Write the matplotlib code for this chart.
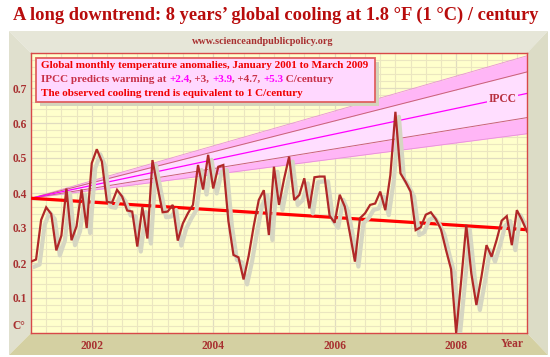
import numpy as np
import matplotlib
matplotlib.use("Agg")
import matplotlib.pyplot as plt
from matplotlib.patches import Polygon, Rectangle
import matplotlib.transforms as mtransforms

# ---------------- data ----------------
start_year = 2001
anomalies = [
    0.204, 0.210, 0.323, 0.359, 0.340, 0.236, 0.278, 0.413, 0.265, 0.305, 0.410, 0.300,  # 2001
    0.485, 0.525, 0.490, 0.375, 0.372, 0.409, 0.390, 0.350, 0.347, 0.247, 0.360, 0.270,  # 2002
    0.494, 0.418, 0.345, 0.347, 0.366, 0.264, 0.313, 0.342, 0.366, 0.480, 0.410, 0.509,  # 2003
    0.413, 0.475, 0.480, 0.320, 0.223, 0.216, 0.153, 0.220, 0.305, 0.380, 0.408, 0.280,  # 2004
    0.475, 0.366, 0.440, 0.504, 0.380, 0.394, 0.442, 0.356, 0.445, 0.447, 0.447, 0.335,  # 2005
    0.315, 0.395, 0.361, 0.285, 0.204, 0.328, 0.342, 0.366, 0.370, 0.404, 0.351, 0.451,  # 2006
    0.632, 0.456, 0.432, 0.404, 0.294, 0.302, 0.338, 0.345, 0.325, 0.296, 0.237, 0.182,  # 2007
    0.000, 0.150, 0.309, 0.170, 0.080, 0.161, 0.251, 0.218, 0.266, 0.321, 0.334, 0.251,  # 2008
    0.351, 0.323, 0.290,                                                                  # 2009
]
trend_start = 0.385          # C at Jan 2001
observed_rate = -1.1         # C / century
ipcc_rates = [2.4, 3.0, 3.9, 4.7, 5.3]   # C / century
fan_span_years = 7.68
year_ticks = [2002, 2004, 2006, 2008]
year_labels = ["2002", "2004", "2006", "2008"]
y_ticks = [0.1, 0.2, 0.3, 0.4, 0.5, 0.6, 0.7]
y_labels = ["0.1", "0.2", "0.3", "0.4", "0.5", "0.6", "0.7"]

title = "A long downtrend: 8 years\u2019 global cooling at 1.8 \u00b0F (1 \u00b0C) / century"
website = "www.scienceandpublicpolicy.org"
line1 = "Global monthly temperature anomalies, January 2001 to March 2009"
line2_parts = [("IPCC predicts warming at ", "#c83048"), ("+2.4", "#ff00ff"), (", +3, ", "#c83048"),
               ("+3.9", "#ff00ff"), (", +4.7, ", "#c83048"), ("+5.3", "#ff00ff"), (" C/century", "#c83048")]
line3 = "The observed cooling trend is equivalent to 1 C/century"

# ---------------- figure ----------------
W, H = 550, 357
fig = plt.figure(figsize=(W / 100, H / 100), dpi=100)
fig.patch.set_facecolor("white")
SERIF = ["Liberation Serif", "DejaVu Serif"]

def fx(px):
    return px / W

def fy(py):
    return 1 - py / H

# bevelled frame
L, R, T, B = 9, 548, 31, 355
l, r, t, b = 31, 527, 53, 333
def poly(pts, color):
    fig.patches.append(Polygon([(fx(x), fy(y)) for x, y in pts], closed=True,
                               transform=fig.transFigure, facecolor=color,
                               edgecolor="none", zorder=-5))
poly([(L, T), (R, T), (r, t), (l, t)], "#e6e6d8")
poly([(L, T), (l, t), (l, b), (L, B)], "#e0e0ce")
poly([(R, T), (R, B), (r, b), (r, t)], "#dcdcc6")
poly([(L, B), (l, b), (r, b), (R, B)], "#d4d0a2")

ax = fig.add_axes([fx(l), fy(b), fx(r) - fx(l), fy(t) - fy(b)])
ax.set_zorder(1)
ax.set_facecolor("#ffffcc")

months = np.arange(len(anomalies))
tt = start_year + months / 12.0
t_end = tt[-1]
ax.set_xlim(start_year, t_end)
ax.set_ylim(0, 0.8)

# grid
ax.set_xticks(np.arange(start_year, t_end + 0.001, 0.25), minor=True)
ax.set_yticks(np.arange(0, 0.8001, 0.02), minor=True)
ax.grid(which="minor", color="#ebe6c0", lw=0.8, zorder=0)
ax.set_axisbelow(True)
ax.set_xticks(year_ticks)
ax.set_xticklabels(year_labels)
ax.set_yticks(y_ticks)
ax.set_yticklabels(y_labels)
ax.grid(which="major", color="#e0dcc0", lw=0.9)
ax.tick_params(which="both", length=0)
ax.tick_params(axis="x", pad=5)
ax.tick_params(axis="y", pad=3)
for lab in ax.get_xticklabels() + ax.get_yticklabels():
    lab.set_family(SERIF)
    lab.set_weight("bold")
    lab.set_color("#a83030")
    lab.set_fontsize(8.3)
for s in ax.spines.values():
    s.set_color("#d84848")
    s.set_linewidth(1.0)

# IPCC fan
tf = np.array([start_year, t_end])
fan = [trend_start + np.array([0, rr * fan_span_years / 100.0]) for rr in ipcc_rates]
ax.fill_between(tf, fan[0], fan[1], color="#ffb6f6", lw=0, zorder=1)
ax.fill_between(tf, fan[1], fan[3], color="#ffdeff", lw=0, zorder=1)
ax.fill_between(tf, fan[3], fan[4], color="#ffb6f6", lw=0, zorder=1)
ax.plot(tf, fan[0], color="#e890d8", lw=0.6, zorder=2)
ax.plot(tf, fan[4], color="#e890d8", lw=0.6, zorder=2)
ax.plot(tf, fan[1], color="#c86078", lw=0.7, zorder=2)
ax.plot(tf, fan[3], color="#c86078", lw=0.7, zorder=2)
ax.plot(tf, fan[2], color="#ff00ff", lw=0.9, zorder=2)
lab_t = 2008.76
lab_y = trend_start + ipcc_rates[2] * fan_span_years / 100.0 * (lab_t - start_year) / (t_end - start_year)
ax.text(lab_t, lab_y, "IPCC", family=SERIF, weight="bold", fontsize=8.3, color="#b83040",
        ha="center", va="center", zorder=3,
        bbox=dict(facecolor="#ffdeff", edgecolor="none", pad=1.2))

# observed trend
trend = trend_start + observed_rate * (tt - start_year) / 100.0
ax.plot(tt, trend, color="#ff0000", lw=2.3, zorder=3, solid_capstyle="butt")

# data with shadow
shadow_tr = mtransforms.offset_copy(ax.transData, fig=fig, x=3.5, y=-5, units="dots")
ax.plot(tt, anomalies, color="#d6d6c2", lw=3.0, transform=shadow_tr, zorder=4,
        solid_joinstyle="round")
ax.plot(tt, anomalies, color="#b02828", lw=1.6, zorder=5, solid_joinstyle="miter")

# legend box
bx0, bx1 = (36 - l) / (r - l), (375 - l) / (r - l)
by0, by1 = (b - 102) / (b - t), (b - 58) / (b - t)
sh = mtransforms.offset_copy(ax.transAxes, fig=fig, x=4, y=-4, units="dots")
ax.add_patch(Rectangle((bx0, by0), bx1 - bx0, by1 - by0, transform=sh,
                       facecolor="#d4d4bc", edgecolor="none", zorder=6))
ax.add_patch(Rectangle((bx0, by0), bx1 - bx0, by1 - by0, transform=ax.transAxes,
                       facecolor="#ffd8ff", edgecolor="#e06060", lw=1.3, zorder=7))
tx = (41 - l) / (r - l)
fs = 8.05
ax.text(tx, (b - 66) / (b - t), line1, transform=ax.transAxes, family=SERIF, weight="bold",
        fontsize=fs, color="#f00000", va="center", ha="left", zorder=8)
prev = ax.text(tx, (b - 79.5) / (b - t), line2_parts[0][0], transform=ax.transAxes,
               family=SERIF, weight="bold", fontsize=fs, color=line2_parts[0][1],
               va="center", ha="left", zorder=8)
for txt, col in line2_parts[1:]:
    prev = ax.annotate(txt, xy=(1, 0), xycoords=prev, va="bottom", ha="left",
                       family=SERIF, weight="bold", fontsize=fs, color=col, zorder=8)
ax.text(tx, (b - 93) / (b - t), line3, transform=ax.transAxes, family=SERIF, weight="bold",
        fontsize=fs, color="#f00000", va="center", ha="left", zorder=8)

# extra axis texts
fig.text(fx(19), fy(326), "C\u00b0", family=SERIF, weight="bold", fontsize=8.3,
         color="#a83030", ha="center", va="center")
fig.text(fx(512), fy(344), "Year", family=SERIF, weight="bold", fontsize=8.3,
         color="#a83030", ha="center", va="center")
fig.text(fx(263), fy(42), website, family=SERIF, weight="bold", fontsize=7.4,
         color="#a83030", ha="center", va="center")
fig.text(fx(276), fy(15), title, family=SERIF, weight="bold", fontsize=13.3,
         color="#b80c0c", ha="center", va="center")

fig.savefig("out.png", dpi=100)
